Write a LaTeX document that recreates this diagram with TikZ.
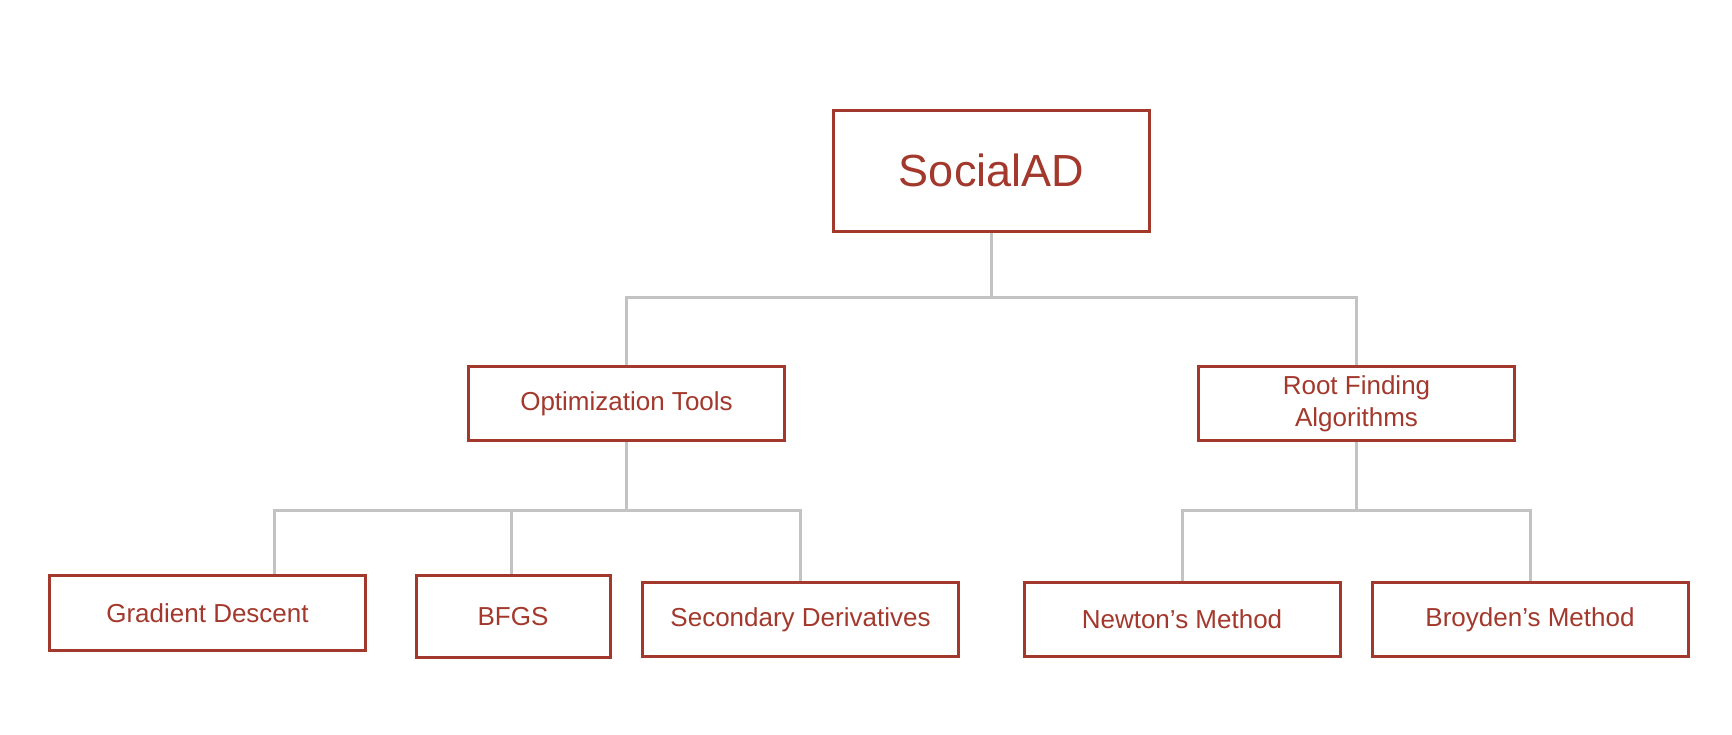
\documentclass[tikz,border=0pt]{standalone}
\usepackage{fontspec}
\setmainfont{Liberation Sans}
\definecolor{boxred}{RGB}{163,56,44}
\definecolor{linegray}{RGB}{195,195,195}
\pgfdeclarelayer{bg}
\pgfsetlayers{bg,main}
\begin{document}
\begin{tikzpicture}[x=0.5pt,y=-0.5pt,
  box/.style={draw=boxred,line width=1.5pt,text=boxred,fill=white,rectangle,inner sep=0pt,
    minimum width=158pt,minimum height=37pt,align=center,
    font=\fontsize{13}{16}\selectfont},
  bigbox/.style={box,minimum width=158pt,minimum height=60.5pt,font=\fontsize{22.5}{27}\selectfont},
  link/.style={draw=linegray,line width=1.5pt}]
\useasboundingbox (0,0) rectangle (1732,734);
\node[bigbox] (root) at (991.5,170.5) {SocialAD};
\node[box] (opt) at (626.5,403.5) {Optimization Tools};
\node[box] (rf) at (1356.5,403.5) {Root Finding\\Algorithms};
\node[box,minimum height=37.5pt] (gd) at (207.5,613) {Gradient Descent};
\node[box,minimum width=97pt,minimum height=41pt] (bfgs) at (513,616.5) {BFGS};
\node[box] (sd) at (800.5,619.5) {Secondary Derivatives};
\node[box] (nm) at (1182,619.5) {Newton’s Method};
\node[box] (bm) at (1530,619.5) {Broyden’s Method};
\coordinate (bus1) at (0,297);
\coordinate (bus2) at (0,510);
\coordinate (gdtop) at (274,575);
\coordinate (bfgstop) at (511,575);
\begin{pgfonlayer}{bg}
\draw[link] (root.south) -- (root.south |- bus1) -| (opt.north);
\draw[link] (root.south |- bus1) -| (rf.north);
\draw[link] (opt.south) -- (opt.south |- bus2) -| (gdtop);
\draw[link] (opt.south |- bus2) -| (sd.north);
\draw[link] (opt.south |- bus2) -| (bfgstop);
\draw[link] (rf.south) -- (rf.south |- bus2) -| (nm.north);
\draw[link] (rf.south |- bus2) -| (bm.north);
\end{pgfonlayer}
\end{tikzpicture}
\end{document}
